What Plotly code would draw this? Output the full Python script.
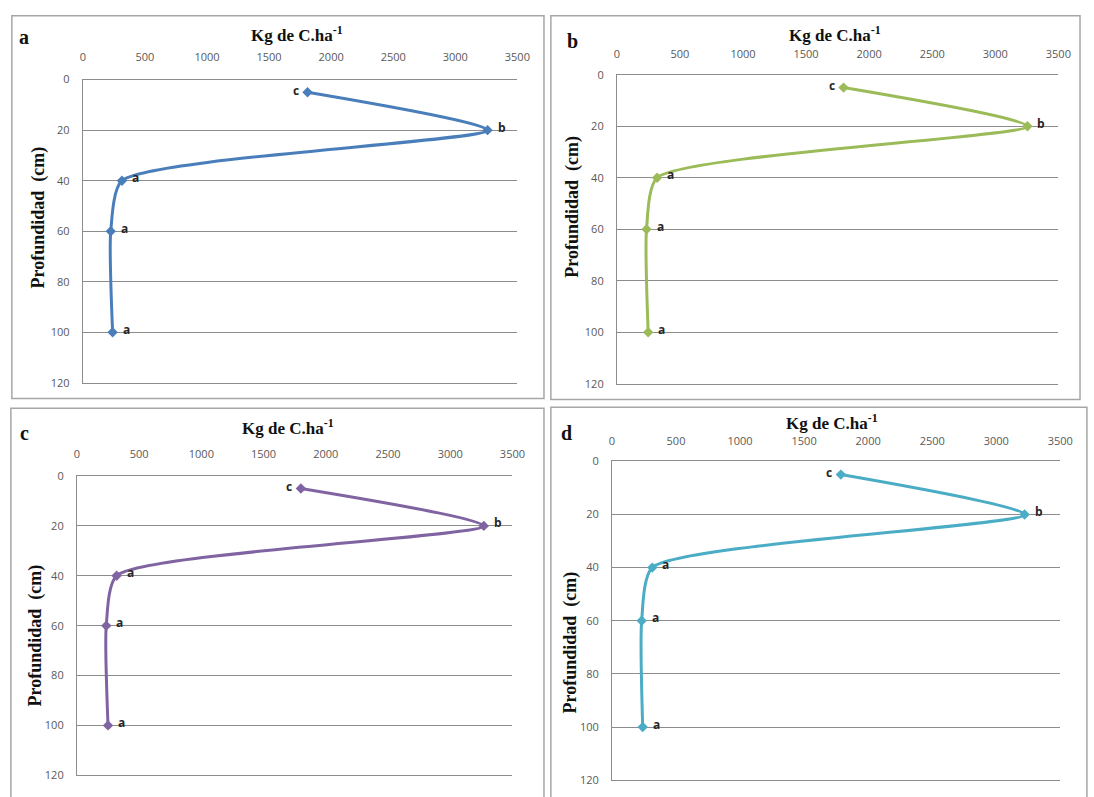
import plotly.graph_objects as go

# ---- data ----
depths = [5, 20, 40, 60, 100]
carbon_a = [1810, 3260, 315, 225, 240]
carbon_b = [1797, 3255, 319, 235, 248]
carbon_c = [1800, 3270, 319, 236, 250]
carbon_d = [1787, 3221, 315, 232, 240]
sig_letters = ["c", "b", "a", "a", "a"]
panel_labels = ["a", "b", "c", "d"]
x_ticks = [0, 500, 1000, 1500, 2000, 2500, 3000, 3500]
y_ticks = [0, 20, 40, 60, 80, 100, 120]
x_title = "Kg de C.ha<sup>-1</sup>"
y_title = "Profundidad  (cm)"

colors = ["#4a7ebb", "#9bbb59", "#8064a2", "#4bacc6"]
series = [carbon_a, carbon_b, carbon_c, carbon_d]

W, H = 1094, 797
# plot areas in pixels: (x0, x1, y0, y1)
areas = [
    (81, 522, 73, 382),
    (623, 1071, 68, 383),
    (75, 517, 477, 782),
    (618, 1073, 462, 787),
]
borders = [
    (9, 8, 549, 398),
    (556, 8, 1093, 399),
    (8, 408, 549, 805),
    (556, 407, 1100, 805),
]
letter_pos = [(21, 30), (578, 34), (22, 433), (572, 433)]
title_pos = [(298, 27), (844, 27), (289, 427), (841, 422)]
ytitle_pos = [(37, 213), (578, 203), (33, 640), (576, 647)]
x_standoff = [13, 11, 13, 11]

fig = go.Figure()
shapes = []
annotations = []

def px(x):
    return x / W

def py(y):
    return 1 - y / H

for i in range(4):
    n = "" if i == 0 else str(i + 1)
    xa, ya = "x" + n, "y" + n
    x0, x1, y0, y1 = areas[i]
    fig.add_trace(go.Scatter(
        x=series[i], y=depths, mode="lines+markers",
        line=dict(color=colors[i], width=3, shape="spline", smoothing=0.6),
        marker=dict(symbol="diamond", size=8, color=colors[i]),
        xaxis=xa, yaxis=ya, showlegend=False, cliponaxis=False,
    ))
    fig.update_layout(**{
        "xaxis" + n: dict(
            domain=[px(x0), px(x1)], anchor=ya, side="top",
            range=[0, 3500], tickvals=x_ticks, ticks="", showgrid=False,
            zeroline=False, showline=True, mirror=True,
            linecolor="#8c8c8c", linewidth=1,
            tickfont=dict(family="Open Sans", size=11, color="#595959"),
            ticklabelstandoff=x_standoff[i],
        ),
        "yaxis" + n: dict(
            domain=[py(y1), py(y0)], anchor=xa,
            range=[120, 0], tickvals=y_ticks, ticks="", showgrid=True,
            gridcolor="#8c8c8c", gridwidth=1, zeroline=False,
            showline=True, linecolor="#8c8c8c", linewidth=1,
            tickfont=dict(family="Open Sans", size=11, color="#595959"),
            ticklabelstandoff=10,
        ),
    })
    # significance letters
    for j, (v, d) in enumerate(zip(series[i], depths)):
        lt = sig_letters[j]
        if lt == "c":
            annotations.append(dict(x=v, y=d, xref=xa, yref=ya, text=lt,
                                    showarrow=False, xanchor="right", xshift=-7, yshift=2,
                                    font=dict(family="Open Sans", size=12, color="#262626", weight="bold")))
        else:
            annotations.append(dict(x=v, y=d, xref=xa, yref=ya, text=lt,
                                    showarrow=False, xanchor="left", xshift=8, yshift=3,
                                    font=dict(family="Open Sans", size=12, color="#262626", weight="bold")))
    # panel border
    bx0, by0, bx1, by1 = borders[i]
    shapes.append(dict(type="rect", xref="paper", yref="paper",
                       x0=px(bx0), x1=px(bx1), y0=py(by1), y1=py(by0),
                       line=dict(color="#a6a6a6", width=1.5), fillcolor="rgba(0,0,0,0)", layer="below"))
    # panel letter
    lx, ly = letter_pos[i]
    annotations.append(dict(x=px(lx), y=py(ly), xref="paper", yref="paper",
                            text=panel_labels[i], showarrow=False, xanchor="center", yanchor="middle",
                            font=dict(family="Liberation Serif", size=20, color="#111111", weight="bold")))
    # x title
    tx, ty = title_pos[i]
    annotations.append(dict(x=px(tx), y=py(ty), xref="paper", yref="paper",
                            text=x_title, showarrow=False, xanchor="center", yanchor="middle",
                            font=dict(family="Liberation Serif", size=17, color="#111111", weight="bold")))
    # y title
    yx, yy = ytitle_pos[i]
    annotations.append(dict(x=px(yx), y=py(yy), xref="paper", yref="paper",
                            text=y_title, showarrow=False, xanchor="center", yanchor="middle",
                            textangle=-90,
                            font=dict(family="Liberation Serif", size=18, color="#111111", weight="bold")))

fig.update_layout(
    width=W, height=H,
    margin=dict(l=0, r=0, t=0, b=0),
    paper_bgcolor="white", plot_bgcolor="white",
    shapes=shapes, annotations=annotations,
)

fig.write_html("out.html")
